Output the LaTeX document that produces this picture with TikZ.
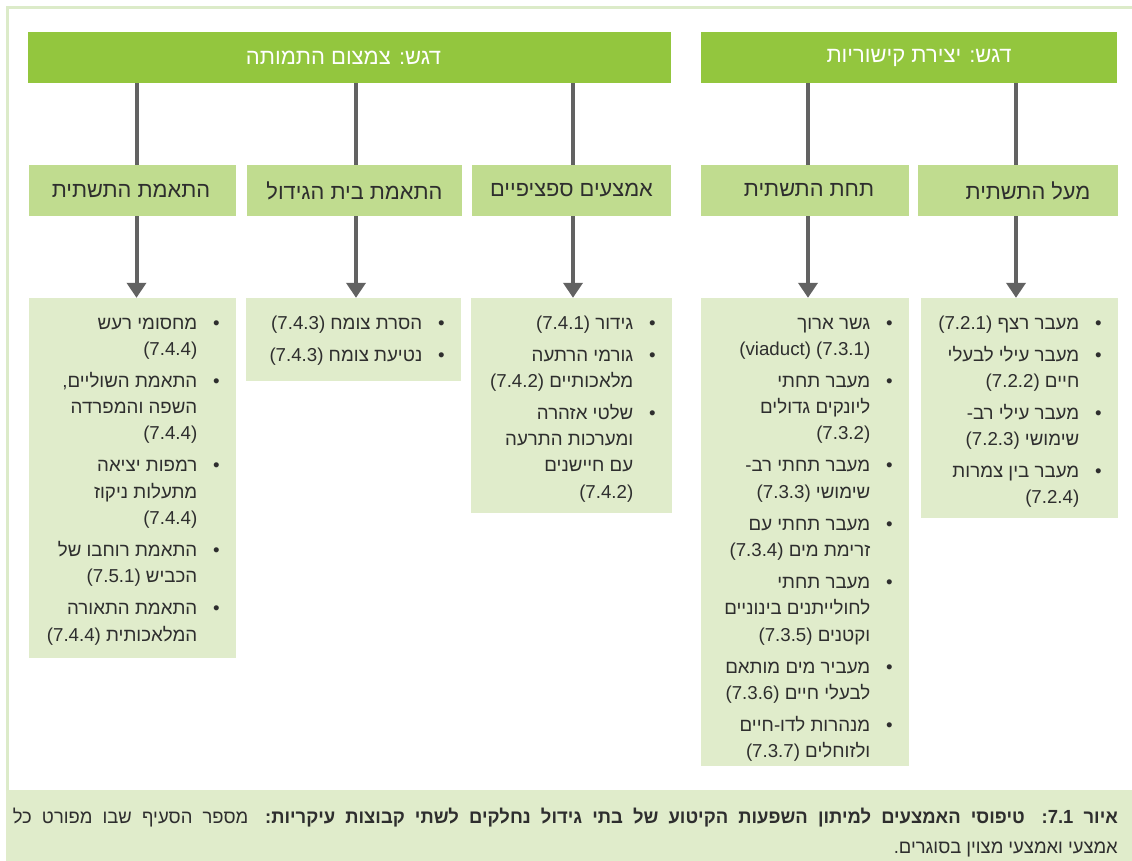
\documentclass[tikz,border=0pt]{standalone}
\usepackage{fontspec}
\setmainfont{Liberation Sans}[Script=Hebrew]
\newfontfamily\capfont[Script=Hebrew,FakeStretch=0.97]{Liberation Sans}
\TeXXeTstate=1
\usetikzlibrary{arrows.meta}
\definecolor{barG}{HTML}{93C63E}
\definecolor{midG}{HTML}{C0DC8F}
\definecolor{paleG}{HTML}{E0ECCB}
\definecolor{frameG}{HTML}{DCEBC9}
\definecolor{lineGray}{HTML}{626262}
\definecolor{txt}{HTML}{2E2E2E}
\newcommand\RL[1]{\beginR#1\endR}
\newcommand\sr[1]{\beginL(#1)\endL}
\newcommand\fl[1]{\hbox to 0pt{\hss\beginR#1\endR\hbox to 38pt{\hss\textbullet\hss}}}
\newcommand\cl[1]{\hbox to 0pt{\hss\beginR#1\endR\hbox to 38pt{}}}
\newcommand\ig{\vskip 5.7pt}
\newcommand\lst[1]{\vtop{\baselineskip=26.3pt\lineskiplimit=-100pt\lineskip=0pt #1}}
\newcommand\bx[7]{\node[#2, minimum width={(#5-#3)*1pt}, minimum height={(#6-#4)*1pt}] (#1) at ({(#3+#5)/2},{(#4+#6)/2}) {#7};}
\tikzset{
  topbar/.style={fill=barG, draw=none, inner sep=0pt, text=white, font=\fontsize{22}{26}\selectfont},
  midbox/.style={fill=midG, draw=none, inner sep=0pt, text=txt, font=\fontsize{21.8}{26}\selectfont},
  palebox/.style={fill=paleG, draw=none, inner sep=0pt},
  listtext/.style={inner sep=0pt, text=txt, font=\fontsize{18.7}{26.3}\selectfont, anchor=base east},
  link/.style={draw=lineGray, line width=4pt},
  arr/.style={draw=lineGray, line width=4pt, -{Triangle[width=19pt,length=15pt]}},
  frameline/.style={draw=frameG, line width=3pt}
}
\begin{document}
\begin{tikzpicture}[x=1pt,y=-1pt]
\useasboundingbox (0,0) rectangle (1132,861);
\fill[white] (0,0) rectangle (1132,861);
% frame
\fill[paleG] (6,790) rectangle (1132,861);
\draw[frameline] (7.5,790) -- (7.5,8) -- (1132,8);
% top bars
\bx{topL}{topbar}{28}{32}{671}{83}{\raisebox{-2pt}{\RL{דגש\kern0pt: צמצום התמותה}\kern12pt}}
\bx{topR}{topbar}{701}{32}{1117}{83}{\raisebox{-2pt}{\kern20pt\RL{דגש\kern0pt: יצירת קישוריות}}}
% second level
\bx{ma}{midbox}{29}{165}{236}{216}{\RL{התאמת התשתית}\kern3pt}
\bx{mb}{midbox}{247}{165}{462}{216}{\RL{התאמת בית הגידול}}
\bx{mc}{midbox}{472}{165}{671}{216}{\RL{אמצעים ספציפיים}}
\bx{md}{midbox}{701}{165}{909}{216}{\kern8pt\RL{תחת התשתית}}
\bx{me}{midbox}{918}{165}{1118}{216}{\kern20pt\RL{מעל התשתית}}
% third level
\bx{pa}{palebox}{29}{298}{236}{658}{}
\bx{pb}{palebox}{246}{298}{461}{381}{}
\bx{pc}{palebox}{471}{298}{672}{513}{}
\bx{pd}{palebox}{701}{298}{909}{766}{}
\bx{pe}{palebox}{921}{298}{1118}{518}{}
% connectors
\draw[link] (topL.south -| ma.center) ++(4,0) coordinate (ca) -- (ma.north -| ca);
\draw[link] (topL.south -| mb.center) ++(1.5,0) coordinate (cb) -- (mb.north -| cb);
\draw[link] (topL.south -| mc.center) ++(1.5,0) coordinate (cc) -- (mc.north -| cc);
\draw[link] (topR.south -| md.center) ++(3,0) coordinate (cd) -- (md.north -| cd);
\draw[link] (topR.south -| me.center) ++(-2,0) coordinate (ce) -- (me.north -| ce);
\draw[arr] (ma.south -| ca) -- (pa.north -| ca);
\draw[arr] (mb.south -| cb) -- (pb.north -| cb);
\draw[arr] (mc.south -| cc) -- (pc.north -| cc);
\draw[arr] (md.south -| cd) -- (pd.north -| cd);
\draw[arr] (me.south -| ce) -- (pe.north -| ce);
% lists
\node[listtext] (la) at (236,329) {\lst{%
\fl{מחסומי רעש}\cl{\sr{7.4.4}}\ig
\fl{התאמת השוליים\kern0pt,}\cl{השפה והמפרדה}\cl{\sr{7.4.4}}\ig
\fl{רמפות יציאה}\cl{מתעלות ניקוז}\cl{\sr{7.4.4}}\ig
\fl{התאמת רוחבו של}\cl{הכביש \sr{7.5.1}}\ig
\fl{התאמת התאורה}\cl{המלאכותית \sr{7.4.4}}}};
\node[listtext] (lb) at (461,329) {\lst{%
\fl{הסרת צומח \sr{7.4.3}}\ig
\fl{נטיעת צומח \sr{7.4.3}}}};
\node[listtext] (lc) at (672,329) {\lst{%
\fl{גידור \sr{7.4.1}}\ig
\fl{גורמי הרתעה}\cl{מלאכותיים \sr{7.4.2}}\ig
\fl{שלטי אזהרה}\cl{ומערכות התרעה}\cl{עם חיישנים}\cl{\sr{7.4.2}}}};
\node[listtext] (ld) at (909,329) {\lst{%
\fl{גשר ארוך}\cl{\beginL(viaduct) (7.3.1)\endL}\ig
\fl{מעבר תחתי}\cl{ליונקים גדולים}\cl{\sr{7.3.2}}\ig
\fl{מעבר תחתי רב\kern0pt-}\cl{שימושי \sr{7.3.3}}\ig
\fl{מעבר תחתי עם}\cl{זרימת מים \sr{7.3.4}}\ig
\fl{מעבר תחתי}\cl{לחולייתנים בינוניים}\cl{וקטנים \sr{7.3.5}}\ig
\fl{מעביר מים מותאם}\cl{לבעלי חיים \sr{7.3.6}}\ig
\fl{מנהרות לדו\kern0pt-\kern0pt חיים}\cl{ולזוחלים \sr{7.3.7}}}};
\node[listtext] (le) at (1118,329) {\lst{%
\fl{מעבר רצף \sr{7.2.1}}\ig
\fl{מעבר עילי לבעלי}\cl{חיים \sr{7.2.2}}\ig
\fl{מעבר עילי רב\kern0pt-}\cl{שימושי \sr{7.2.3}}\ig
\fl{מעבר בין צמרות}\cl{\sr{7.2.4}}}};
% caption
\node[inner sep=0pt, text=txt, anchor=base east, font=\capfont\fontsize{19}{30}\selectfont] (cap) at (1118,823.5) {\vtop{\baselineskip=30pt
\spaceskip=5pt plus 12pt minus 2pt
\hbox to 1105pt{\beginR{\bfseries איור \beginL7.1\endL\kern0pt: טיפוסי האמצעים למיתון השפעות הקיטוע של בתי גידול נחלקים לשתי קבוצות עיקריות\kern0pt:} מספר הסעיף שבו מפורט כל\endR}
\hbox to 1105pt{\hss\beginR אמצעי ואמצעי מצוין בסוגרים\kern0pt.\endR}}};
\end{tikzpicture}
\end{document}
